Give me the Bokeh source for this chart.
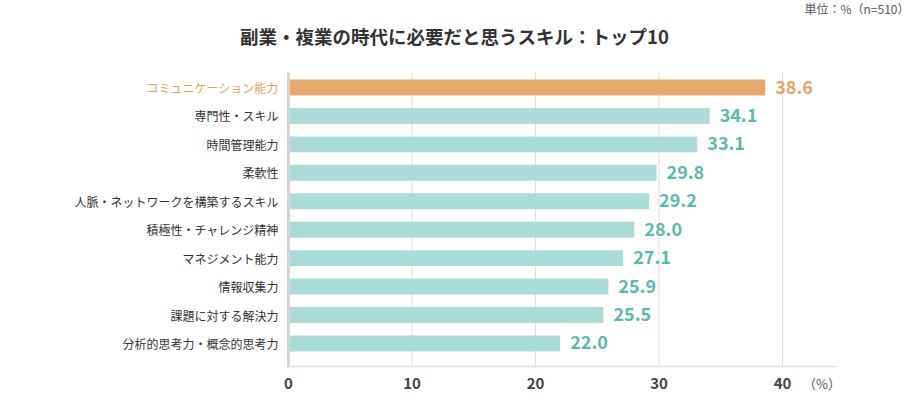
from bokeh.plotting import figure
from bokeh.models import ColumnDataSource, Range1d, LabelSet, Label
from bokeh.core.properties import value
from bokeh.embed import file_html
from bokeh.resources import INLINE

categories = ["コミュニケーション能力", "専門性・スキル", "時間管理能力", "柔軟性",
              "人脈・ネットワークを構築するスキル", "積極性・チャレンジ精神",
              "マネジメント能力", "情報収集力", "課題に対する解決力",
              "分析的思考力・概念的思考力"]
values = [38.6, 34.1, 33.1, 29.8, 29.2, 28.0, 27.1, 25.9, 25.5, 22.0]
x_ticks = [0, 10, 20, 30, 40]
x_max = 44.4
unit_tick = 43.2
title_text = "副業・複業の時代に必要だと思うスキル：トップ10"
unit_text = "単位：%（n=510）"
axis_unit = "（%）"

FONT = "Noto Sans CJK JP"
W, H = 910, 396
bar_colors = ["#e5a86d"] + ["#acdcd8"] * (len(values) - 1)
val_colors = ["#e3a468"] + ["#5bb8ad"] * (len(values) - 1)
cat_colors = ["#e3a063"] + ["#333333"] * (len(values) - 1)

rows = list(range(len(categories)))
src = ColumnDataSource(dict(row=rows, cat=categories, val=values, zero=[0] * len(values),
                            bc=bar_colors, vc=val_colors, cc=cat_colors,
                            vtxt=[f"{v:.1f}" for v in values]))

# layout (figure pixels)
plot_left, px_per_unit = 288, 12.35
frame_top, frame_bottom = 72, 365
row0, row_step = 87, 28.44

p = figure(width=W, height=H, output_backend="svg", toolbar_location=None,
           x_axis_type=None, y_axis_type=None,
           x_range=Range1d(-plot_left / px_per_unit, (W - plot_left) / px_per_unit),
           y_range=Range1d((H - row0) / row_step, -row0 / row_step),
           min_border=0)
p.extra_y_ranges = {"px": Range1d(H, 0)}
p.extra_x_ranges = {"px": Range1d(0, W)}
p.outline_line_color = None
p.grid.visible = False

# grid lines at ticks
grid_ticks = x_ticks[1:]
p.segment(x0=grid_ticks, x1=grid_ticks, y0=[frame_top] * len(grid_ticks),
          y1=[frame_bottom] * len(grid_ticks), y_range_name="px",
          line_color="#dddddd", line_width=1)
# bottom axis line
p.segment(x0=[x_ticks[0]], x1=[x_max], y0=[frame_bottom + 1], y1=[frame_bottom + 1],
          y_range_name="px", line_color="#dddddd", line_width=1.5)

p.hbar(y="row", right="val", left=0, height=0.56, color="bc", line_color=None, source=src)

# left axis line
p.segment(x0=[x_ticks[0]], x1=[x_ticks[0]], y0=[frame_top], y1=[frame_bottom + 2],
          y_range_name="px", line_color="#d8d4cf", line_width=3)

# category labels
p.add_layout(LabelSet(x="zero", y="row", text="cat", source=src, x_offset=-10,
                      text_align="right", text_baseline="middle",
                      text_font=value(FONT), text_font_size="12px", text_color="cc"))

# value labels
p.add_layout(LabelSet(x="val", y="row", text="vtxt", source=src, x_offset=10, y_offset=1,
                      text_align="left", text_baseline="middle",
                      text_font=value(FONT), text_font_style="bold", text_font_size="18px",
                      text_color="vc"))

# x tick labels
tick_src = ColumnDataSource(dict(x=x_ticks, y=[383] * len(x_ticks),
                                 t=[str(t) for t in x_ticks]))
p.add_layout(LabelSet(x="x", y="y", text="t", source=tick_src, y_range_name="px",
                      text_align="center", text_baseline="middle",
                      text_font=value(FONT), text_font_style="bold", text_font_size="15px",
                      text_color="#444444"))
p.add_layout(Label(x=unit_tick, y=383, y_range_name="px", text=axis_unit,
                   text_align="center", text_baseline="middle", text_font=FONT,
                   text_font_size="13px", text_color="#555555"))

# titles
p.add_layout(Label(x=454, y=35, x_range_name="px", y_range_name="px", text=title_text,
                   text_align="center", text_baseline="middle", text_font=FONT,
                   text_font_style="bold", text_font_size="18.5px", text_color="#333333"))
p.add_layout(Label(x=W - 1, y=8, x_range_name="px", y_range_name="px", text=unit_text,
                   text_align="right", text_baseline="middle", text_font=FONT,
                   text_font_size="12px", text_color="#555555"))

open("out.html", "w").write(file_html(p, INLINE))
